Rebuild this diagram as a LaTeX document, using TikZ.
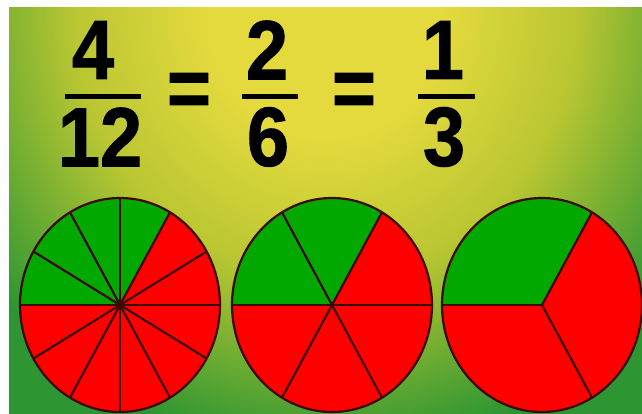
\documentclass[tikz,border=0pt]{standalone}
\usepackage{fontspec}
\newfontfamily\fracfont[FakeStretch=0.9,FakeBold=1.2]{Liberation Sans}
\definecolor{piegreen}{RGB}{0,168,0}
\definecolor{piered}{RGB}{255,0,0}
\definecolor{pieline}{RGB}{60,10,5}
\definecolor{bgyellow}{RGB}{228,218,62}
\definecolor{bglime}{RGB}{185,198,50}
\definecolor{bggreen}{RGB}{45,150,50}
\pgfdeclareradialshading{bgglow}{\pgfpoint{0bp}{0bp}}{color(0bp)=(bgyellow); color(7bp)=(bgyellow); color(15bp)=(bglime); color(25bp)=(bggreen); color(50bp)=(bggreen)}

\begin{document}
\begin{tikzpicture}[x=1pt,y=1pt,
    digit/.style={font=\fracfont\bfseries\fontsize{84}{84}\selectfont,inner sep=0pt},
    bar/.style={line width=5pt},
    slice/.style={draw=pieline,line width=2.2pt,line join=round}]
  \useasboundingbox (0,0) rectangle (642,414);
  \fill[white] (0,0) rectangle (642,414);
  \begin{scope}
    \clip (9,0) rectangle (642,406);
    \fill[bggreen] (9,0) rectangle (642,406);
    \shade[shading=bgglow] (325,400) ellipse [x radius=420,y radius=440];
  \end{scope}
  \node[digit] (num1) at (93,364) {4};
  \node[digit] (den1) at (100,277) {12};
  \draw[bar] (65,317) -- (141,317);
  \node[digit] (eq1) at (189,319) {=};
  \node[digit] (num2) at (267,364) {2};
  \node[digit] (den2) at (268,277) {6};
  \draw[bar] (242,317) -- (298,317);
  \node[digit] (eq2) at (354,319) {=};
  \node[digit] (num3) at (443,364) {1};
  \node[digit] (den3) at (444,277) {3};
  \draw[bar] (418,317) -- (475,317);
  \foreach \cx/\n [count=\i] in {120/12,332/6,542/3}{
    \begin{scope}[shift={(\cx,109)},yscale=1.07]
      \coordinate (hub\i) at (0,0);
      \fill[piered] (hub\i) circle [radius=100];
      \fill[piegreen] (hub\i) -- (60:100) arc [start angle=60,end angle=180,radius=100] -- cycle;
      \pgfmathsetmacro\sliceangle{360/\n}
      \foreach \k in {1,...,\n}
        \draw[slice] (hub\i) -- ({60+\k*\sliceangle}:100);
      \draw[slice] (hub\i) circle [radius=100];
    \end{scope}
  }
\end{tikzpicture}
\end{document}
